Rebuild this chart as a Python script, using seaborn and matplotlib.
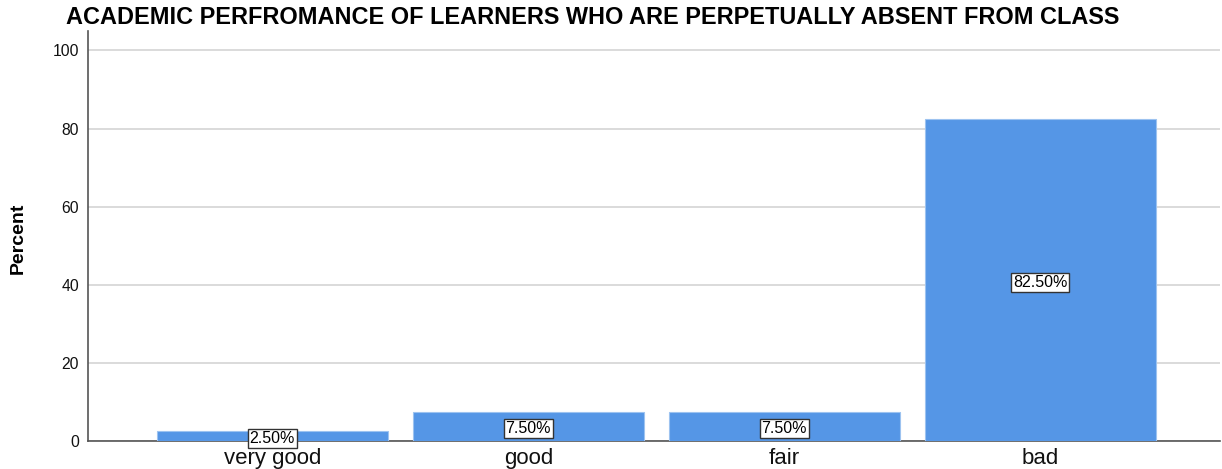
import matplotlib
matplotlib.use("Agg")
import matplotlib.pyplot as plt
import seaborn as sns
import pandas as pd

categories = ["very good", "good", "fair", "bad"]
percent = [2.5, 7.5, 7.5, 82.5]
labels = ["2.50%", "7.50%", "7.50%", "82.50%"]

sns.set_theme(style="white")
plt.rcParams['font.family'] = ['Liberation Sans', 'DejaVu Sans']

df = pd.DataFrame({"cat": categories, "pct": percent})

fig = plt.figure(figsize=(12.22, 4.69), dpi=100)
ax = fig.add_axes([0.072, 0.06, 0.926, 0.874])
sns.barplot(data=df, x="cat", y="pct", color="#5596E6", saturation=1, width=0.9, ax=ax, zorder=3)
for p in ax.patches:
    p.set_edgecolor("#9DC3F0")
    p.set_linewidth(0.8)

for i, (v, lab) in enumerate(zip(percent, labels)):
    ax.text(i, v / 2 - 0.6, lab, ha="center", va="center", fontsize=11.5, color="black", zorder=5,
            bbox=dict(boxstyle="square,pad=0.12", fc="white", ec="#333333", lw=1))

ax.set_ylim(0, 105)
ax.set_xlim(-0.72, 3.7)
ax.set_yticks([0, 20, 40, 60, 80, 100])
ax.yaxis.grid(True, color="#D4D4D4", lw=1.2, zorder=0)
ax.set_axisbelow(True)
for s in ["top", "right"]:
    ax.spines[s].set_visible(False)
for s in ["left", "bottom"]:
    ax.spines[s].set_color("#555555")
    ax.spines[s].set_linewidth(1.2)
ax.tick_params(axis="y", labelsize=11.3, length=0, pad=6.5, colors="#111111")
ax.tick_params(axis="x", labelsize=16, length=0, pad=5.5, colors="#111111")
ax.set_xlabel("")
ax.set_ylabel("Percent", fontsize=14, fontweight="bold", color="black")
ax.yaxis.set_label_coords(-0.054, 0.495)
fig.text(0.054, 0.962, "ACADEMIC PERFROMANCE OF LEARNERS WHO ARE PERPETUALLY ABSENT FROM CLASS",
         fontsize=16.9, fontweight="bold", ha="left", va="center", color="black")
fig.savefig("out.png", dpi=100)
